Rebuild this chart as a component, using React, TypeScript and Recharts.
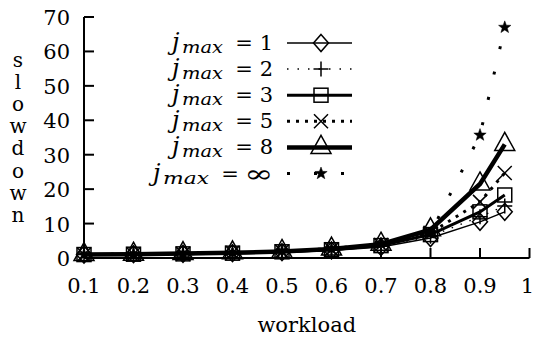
import React from 'react';
import { LineChart, Line, XAxis, YAxis, Legend } from 'recharts';

const workload = [0.1, 0.2, 0.3, 0.4, 0.5, 0.6, 0.7, 0.8, 0.9, 0.95];
const jmax1 = [1.0, 1.1, 1.2, 1.4, 1.7, 2.2, 3.2, 5.8, 10.5, 13.4];
const jmax2 = [1.0, 1.1, 1.2, 1.4, 1.8, 2.3, 3.4, 6.3, 12.0, 15.1];
const jmax3 = [1.0, 1.1, 1.2, 1.4, 1.8, 2.4, 3.6, 6.8, 13.4, 18.3];
const jmax5 = [1.0, 1.1, 1.2, 1.5, 1.9, 2.5, 3.8, 7.3, 16.3, 24.7];
const jmax8 = [1.0, 1.1, 1.3, 1.5, 1.9, 2.6, 4.0, 8.2, 21.5, 33.0];
const jmaxInf = [1.0, 1.1, 1.3, 1.5, 2.0, 2.7, 4.2, 7.2, 35.7, 67.0];

const seriesLabels = ['1', '2', '3', '5', '8', '\u221E'];
const xTicks = [0.1, 0.2, 0.3, 0.4, 0.5, 0.6, 0.7, 0.8, 0.9, 1];
const yTicks = [0, 10, 20, 30, 40, 50, 60, 70];
const xLabel = 'workload';
const yLabel = 'slowdown';

const data = workload.map((w, i) => ({
  w,
  j1: jmax1[i],
  j2: jmax2[i],
  j3: jmax3[i],
  j5: jmax5[i],
  j8: jmax8[i],
  jinf: jmaxInf[i],
}));

const FONT = "'DejaVu Serif', serif";
const K = '#000';

type P = { cx?: number; cy?: number };

const Diamond = ({ cx = 0, cy = 0 }: P) => (
  <path d={`M${cx},${cy - 8.5}L${cx + 7.5},${cy}L${cx},${cy + 8.5}L${cx - 7.5},${cy}Z`} fill="none" stroke={K} strokeWidth={1.5} />
);
const Plus = ({ cx = 0, cy = 0 }: P) => (
  <path d={`M${cx - 7.5},${cy}H${cx + 7.5}M${cx},${cy - 7.5}V${cy + 7.5}`} fill="none" stroke={K} strokeWidth={1.5} />
);
const Square = ({ cx = 0, cy = 0 }: P) => (
  <rect x={cx - 7} y={cy - 7} width={14} height={14} fill="none" stroke={K} strokeWidth={1.5} />
);
const Cross = ({ cx = 0, cy = 0 }: P) => (
  <path d={`M${cx - 7},${cy - 7}L${cx + 7},${cy + 7}M${cx - 7},${cy + 7}L${cx + 7},${cy - 7}`} fill="none" stroke={K} strokeWidth={1.5} />
);
const Triangle = ({ cx = 0, cy = 0 }: P) => (
  <path d={`M${cx},${cy - 12}L${cx + 10},${cy + 6}L${cx - 10},${cy + 6}Z`} fill="none" stroke={K} strokeWidth={1.5} />
);
const Star = ({ cx = 0, cy = 0 }: P) => {
  const pts: string[] = [];
  for (let k = 0; k < 10; k++) {
    const r = k % 2 === 0 ? 6.5 : 2.7;
    const a = -Math.PI / 2 + (k * Math.PI) / 5;
    pts.push(`${cx + r * Math.cos(a)},${cy + r * Math.sin(a)}`);
  }
  return <polygon points={pts.join(' ')} fill={K} stroke={K} strokeWidth={0.5} />;
};

const series = [
  { key: 'j1', Shape: Diamond, width: 1.5, dash: undefined as string | undefined, legendDash: undefined as string | undefined },
  { key: 'j2', Shape: Plus, width: 1.5, dash: '1.5 8', legendDash: '1.5 9' },
  { key: 'j3', Shape: Square, width: 3, dash: undefined, legendDash: undefined },
  { key: 'j5', Shape: Cross, width: 3, dash: '3 6', legendDash: '3 6' },
  { key: 'j8', Shape: Triangle, width: 4.5, dash: undefined, legendDash: undefined },
  { key: 'jinf', Shape: Star, width: 3, dash: '3 23', legendDash: '3 24' },
];

const BottomTick = (props: any) => {
  const { x, y, payload } = props;
  const last = payload.value === xTicks[xTicks.length - 1];
  return (
    <g>
      <line x1={x} x2={x} y1={y} y2={y - 10} stroke={K} strokeWidth={2} />
      <text x={last ? x - 2 : x} y={y + 35} textAnchor="middle" fontFamily={FONT} fontSize={21} fill={K}>
        {String(payload.value)}
      </text>
    </g>
  );
};
const TopTick = (props: any) => {
  const { x, y } = props;
  return <line x1={x} x2={x} y1={y} y2={y + 10} stroke={K} strokeWidth={2} />;
};
const LeftTick = (props: any) => {
  const { x, y, payload } = props;
  return (
    <g>
      <line x1={x} x2={x + 10} y1={y} y2={y} stroke={K} strokeWidth={2} />
      <text x={x - 14} y={y + 8} textAnchor="end" fontFamily={FONT} fontSize={21} fill={K}>
        {String(payload.value)}
      </text>
    </g>
  );
};
const RightTick = (props: any) => {
  const { x, y } = props;
  return <line x1={x} x2={x - 10} y1={y} y2={y} stroke={K} strokeWidth={2} />;
};

const renderXLabel = (props: any) => {
  const vb = props.viewBox || {};
  return (
    <text x={vb.x + vb.width / 2} y={332} textAnchor="middle" fontFamily={FONT} fontSize={21} fill={K}>
      {xLabel}
    </text>
  );
};

const renderYLabel = () => (
  <text x={18} y={67} textAnchor="middle" fontFamily={FONT} fontSize={20} fill={K}>
    {yLabel.split('').map((c, i) => (
      <tspan key={i} x={18} dy={i === 0 ? 0 : 22.1}>
        {c}
      </tspan>
    ))}
  </text>
);

const renderLegend = () => (
  <svg width={533} height={200} style={{ display: 'block', overflow: 'visible' }}>
    {series.map((s, i) => {
      const y = 43 + i * 26.1;
      const inf = i === 5;
      const jx = inf ? 153 : 172;
      const mx = inf ? 163 : 182;
      const mLen = inf ? 46 : 41;
      const eq = inf ? 230 : 244;
      const S = s.Shape;
      return (
        <g key={s.key}>
          <text x={jx} y={y + 7} fontFamily={FONT} fontStyle="italic" fontSize={24} fill={K}>j</text>
          <text x={mx} y={y + 10} fontFamily={FONT} fontStyle="italic" fontSize={17} fill={K} textLength={mLen} lengthAdjust="spacingAndGlyphs">max</text>
          <text x={eq} y={y + 7} textAnchor="middle" fontFamily={FONT} fontSize={21} fill={K}>=</text>
          {inf ? (
            <text x={244} y={y + 8} fontFamily={FONT} fontSize={24} fill={K} textLength={29} lengthAdjust="spacingAndGlyphs">{seriesLabels[i]}</text>
          ) : (
            <text x={273} y={y + 7} textAnchor="end" fontFamily={FONT} fontSize={21} fill={K}>{seriesLabels[i]}</text>
          )}
          <line x1={287} x2={352} y1={y} y2={y} stroke={K} strokeWidth={s.width} strokeDasharray={s.legendDash} />
          <S cx={321} cy={y} />
        </g>
      );
    })}
  </svg>
);

export default function App() {
  return (
    <div style={{ position: 'absolute', left: 0, top: 0, width: 533, height: 337, background: '#fff' }}>
      <LineChart width={533} height={337} data={data} margin={{ top: 17, right: 3.5, bottom: 0, left: 0 }}>
        <XAxis
          dataKey="w"
          type="number"
          domain={[0.1, 1]}
          ticks={xTicks}
          interval={0}
          height={79}
          tickSize={0}
          tickMargin={0}
          tickLine={false}
          axisLine={{ stroke: K, strokeWidth: 2 }}
          tick={BottomTick}
          label={renderXLabel}
        />
        <XAxis
          xAxisId="top"
          orientation="top"
          dataKey="w"
          type="number"
          domain={[0.1, 1]}
          ticks={xTicks}
          interval={0}
          height={0}
          tickSize={0}
          tickMargin={0}
          tickLine={false}
          axisLine={{ stroke: K, strokeWidth: 2 }}
          tick={TopTick}
        />
        <YAxis
          type="number"
          domain={[0, 70]}
          ticks={yTicks}
          interval={0}
          width={84}
          tickSize={0}
          tickMargin={0}
          tickLine={false}
          axisLine={{ stroke: K, strokeWidth: 2 }}
          tick={LeftTick}
          label={renderYLabel}
        />
        <YAxis
          yAxisId="right"
          orientation="right"
          type="number"
          domain={[0, 70]}
          ticks={yTicks}
          interval={0}
          width={0}
          tickSize={0}
          tickMargin={0}
          tickLine={false}
          axisLine={{ stroke: K, strokeWidth: 2 }}
          tick={RightTick}
        />
        {series.map((s) => {
          const S = s.Shape;
          return (
            <Line
              key={s.key}
              dataKey={s.key}
              type="linear"
              stroke={K}
              strokeWidth={s.width}
              strokeDasharray={s.dash}
              isAnimationActive={false}
              activeDot={false}
              dot={(p: any) => <S key={`${s.key}-${p.index}`} cx={p.cx} cy={p.cy} />}
            />
          );
        })}
        <Legend
          layout="vertical"
          align="center"
          verticalAlign="middle"
          content={renderLegend}
          wrapperStyle={{ left: 0, top: 0, width: 533, height: 200 }}
        />
      </LineChart>
    </div>
  );
}
